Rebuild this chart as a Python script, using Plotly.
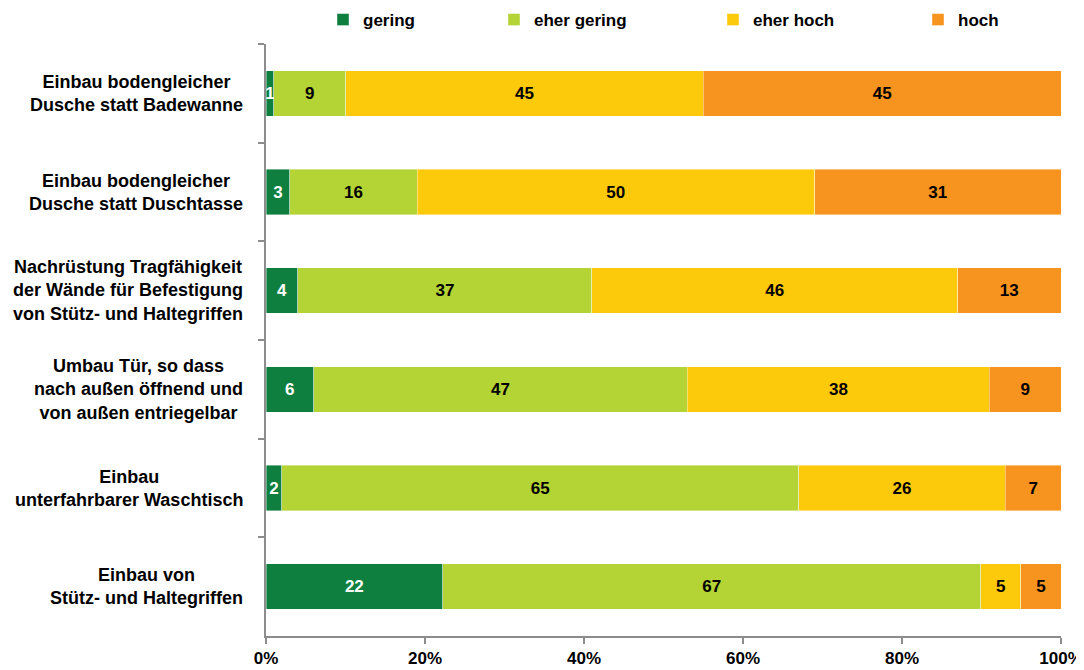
import plotly.graph_objects as go

categories = [
    "Einbau bodengleicher<br>Dusche statt Badewanne",
    "Einbau bodengleicher<br>Dusche statt Duschtasse",
    "Nachrüstung Tragfähigkeit<br>der Wände für Befestigung<br>von Stütz- und Haltegriffen",
    "Umbau Tür, so dass<br>nach außen öffnend und<br>von außen entriegelbar",
    "Einbau<br>unterfahrbarer Waschtisch",
    "Einbau von<br>Stütz- und Haltegriffen",
]
gering = [1, 3, 4, 6, 2, 22]
eher_gering = [9, 16, 37, 47, 65, 67]
eher_hoch = [45, 50, 46, 38, 26, 5]
hoch = [45, 31, 13, 9, 7, 5]

series = [
    ("gering", gering, "#0E7F3E", "white"),
    ("eher gering", eher_gering, "#B4D334", "black"),
    ("eher hoch", eher_hoch, "#FDCA0B", "black"),
    ("hoch", hoch, "#F7941F", "black"),
]
tick_vals = [0, 20, 40, 60, 80, 100]
tick_text = ["0%", "20%", "40%", "60%", "80%", "100%"]

FONT = "Liberation Sans, Arial, sans-serif"
W, H = 1076, 662   # page body adds an 8px margin
legend_names = ["legend", "legend2", "legend3", "legend4"]
legend_px = [343, 514, 733, 938]   # square left edges in the target picture

fig = go.Figure()
for (name, vals, color, tcolor), lg in zip(series, legend_names):
    fig.add_trace(go.Bar(
        name=name, y=categories, x=vals, orientation="h",
        marker=dict(color=color, line=dict(color="rgba(255,255,255,0.5)", width=0.8)),
        text=[str(v) for v in vals], textposition="inside", insidetextanchor="middle",
        constraintext="none", cliponaxis=False,
        textfont=dict(family=FONT, size=17, color=tcolor, weight="bold"),
        hoverinfo="skip", legend=lg,
    ))

for c in categories:
    fig.add_annotation(
        x=0, xref="paper", xanchor="right", xshift=-21,
        y=c, yref="y", yanchor="middle",
        text="<b>" + c + "</b>", showarrow=False, align="center",
        font=dict(family=FONT, size=18, color="black"),
    )

legend_common = dict(
    orientation="h", xref="container", yref="container",
    xanchor="left", yanchor="middle", y=1 - 12 / H,
    font=dict(family=FONT, size=17, color="black", weight="bold"),
    bgcolor="rgba(0,0,0,0)", borderwidth=0, itemwidth=30,
)
legend_layout = {}
for lg, px in zip(legend_names, legend_px):
    legend_layout[lg] = dict(legend_common, x=(px - 28) / W)

fig.update_layout(
    barmode="stack", barnorm="percent", bargap=0.54,
    width=W, height=H,
    margin=dict(l=258, r=23, t=36, b=34, autoexpand=False),
    paper_bgcolor="white", plot_bgcolor="white",
    font=dict(family=FONT, size=17, color="black"),
    showlegend=True,
    **legend_layout,
)

fig.update_xaxes(
    range=[0, 100.0001], tickvals=tick_vals, ticktext=tick_text,
    showgrid=False, zeroline=False, showline=True, linecolor="#8C8C8C", linewidth=2,
    ticks="outside", ticklen=6, tickcolor="#8C8C8C", tickwidth=2,
    tickfont=dict(family=FONT, size=17, color="black", weight="bold"),
    ticklabelstandoff=0,
)
fig.update_yaxes(
    categoryorder="array", categoryarray=categories, autorange="reversed",
    showticklabels=False, tickson="boundaries",
    showgrid=False, zeroline=False, showline=True, linecolor="#8C8C8C", linewidth=2,
    ticks="outside", ticklen=6, tickcolor="#8C8C8C", tickwidth=2,
)

fig.write_html("out.html")
